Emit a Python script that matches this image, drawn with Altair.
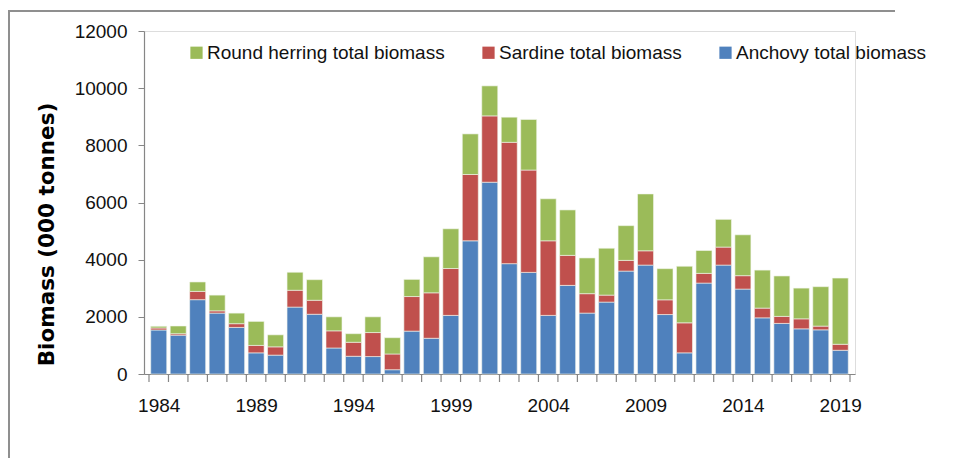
import altair as alt
import pandas as pd

years = list(range(1984, 2020))
anchovy = [1540, 1360, 2600, 2130, 1630, 740, 660, 2340, 2090, 910,
           620, 610, 150, 1500, 1250, 2050, 4660, 6710, 3860, 3555,
           2050, 3100, 2130, 2515, 3600, 3810, 2080, 740, 3180, 3810,
           2970, 1965, 1770, 1580, 1545, 830]
sardine = [70, 50, 290, 80, 130, 260, 290, 590, 490, 600,
           490, 840, 550, 1210, 1590, 1640, 2320, 2320, 4245, 3580,
           2610, 1050, 680, 245, 375, 500, 515, 1050, 340, 630,
           470, 340, 245, 350, 130, 210]
herring = [60, 270, 330, 550, 370, 840, 420, 630, 720, 490,
           300, 550, 570, 600, 1260, 1390, 1420, 1050, 880, 1770,
           1470, 1590, 1250, 1640, 1215, 1990, 1090, 1980, 800, 970,
           1430, 1330, 1415, 1075, 1380, 2315]

series_names = ["Round herring total biomass", "Sardine total biomass", "Anchovy total biomass"]
series_colors = ["#9BBB59", "#C0504D", "#4F81BD"]
x_labels = [1984, 1989, 1994, 1999, 2004, 2009, 2014, 2019]
y_ticks = [0, 2000, 4000, 6000, 8000, 10000, 12000]

rows = []
for i, yr in enumerate(years):
    rows.append({"year": yr, "series": "Anchovy total biomass", "value": anchovy[i], "k": 0})
    rows.append({"year": yr, "series": "Sardine total biomass", "value": sardine[i], "k": 1})
    rows.append({"year": yr, "series": "Round herring total biomass", "value": herring[i], "k": 2})
df = pd.DataFrame(rows)

bounds = pd.DataFrame({"b": [y - 0.5 for y in years] + [years[-1] + 0.5]})

W, H = 711, 343
FONT = "Liberation Sans"

xscale = alt.Scale(domain=[years[0] - 0.5, years[-1] + 0.5], nice=False, zero=False)
yscale = alt.Scale(domain=[0, 12000], nice=False)

bars = alt.Chart(df).mark_bar(orient="vertical", size=16, stroke="#f4f7ee", strokeWidth=0.6).encode(
    x=alt.X("year:Q", scale=xscale,
            axis=alt.Axis(values=x_labels, ticks=False, title=None, format="d",
                          labelFontSize=19, labelFont=FONT, labelColor="#111",
                          labelPadding=22, domainColor="#868686", domainWidth=1.2,
                          grid=False, labelFlush=False)),
    y=alt.Y("value:Q", stack="zero", scale=yscale,
            axis=alt.Axis(values=y_ticks, format="d", title="Biomass  (000 tonnes)", grid=False,
                          tickSize=6, tickColor="#868686", domainColor="#868686",
                          domainWidth=1.2, labelFontSize=19, labelFont=FONT,
                          labelColor="#111", labelPadding=11,
                          titleFont="DejaVu Sans", titleFontWeight="bold",
                          titleFontSize=21.5, titleColor="#000",
                          titleAngle=270, titleX=-97, titleY=203, titleAlign="center",
                          titleBaseline="middle")),
    color=alt.Color("series:N",
                    scale=alt.Scale(domain=series_names, range=series_colors),
                    legend=alt.Legend(orient="none", legendX=43, legendY=12,
                                      direction="horizontal", columns=3, title=None,
                                      symbolType="square", symbolSize=150,
                                      symbolStrokeWidth=0, labelFontSize=19,
                                      labelFont=FONT, labelColor="#111", labelLimit=0,
                                      labelOffset=1, columnPadding=34, padding=0)),
    order=alt.Order("k:Q", sort="ascending"),
)

ticks = alt.Chart(bounds).mark_rule(color="#868686", strokeWidth=1.2).encode(
    x=alt.X("b:Q", scale=xscale),
    y=alt.value(H),
    y2=alt.value(H + 8),
)

one = pd.DataFrame({"a": [0]})
frame_top = alt.Chart(one).mark_rule(color="#8f8f8f", strokeWidth=2).encode(
    x=alt.value(-136), x2=alt.value(W + 40),
    y=alt.value(-20),
)
frame_left = alt.Chart(one).mark_rule(color="#8f8f8f", strokeWidth=2).encode(
    x=alt.value(-135),
    y=alt.value(-21), y2=alt.value(H + 84),
)

chart = alt.layer(frame_top, frame_left, bars, ticks).properties(
    width=W, height=H,
    autosize=alt.AutoSizeParams(type="none"),
    padding={"left": 136, "top": 23, "right": 80, "bottom": 84},
).configure_view(stroke=None).configure(background="white")

chart.save("out.html", embed_options={"renderer": "svg", "actions": False})
